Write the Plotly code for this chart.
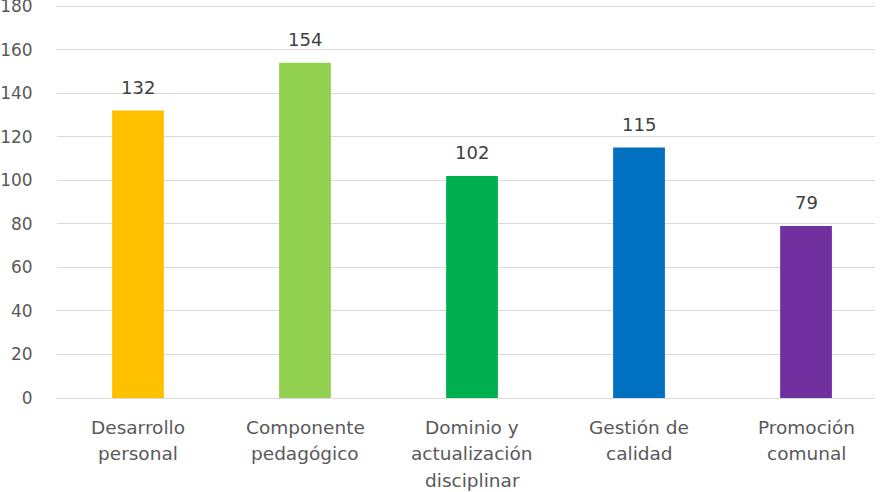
import plotly.graph_objects as go

categories = ["Desarrollo personal", "Componente pedagógico", "Dominio y actualización disciplinar",
              "Gestión de calidad", "Promoción comunal"]
tick_lines = [["Desarrollo", "personal"], ["Componente", "pedagógico"],
              ["Dominio y", "actualización", "disciplinar"],
              ["Gestión de", "calidad"], ["Promoción", "comunal"]]
values = [132, 154, 102, 115, 79]
colors = ["#FFC000", "#92D050", "#00B050", "#0070C0", "#7030A0"]
y_ticks = [0, 20, 40, 60, 80, 100, 120, 140, 160, 180]

font_family = "DejaVu Sans, sans-serif"

fig = go.Figure()
fig.add_trace(go.Bar(
    x=categories, y=values, marker=dict(color=colors, line=dict(width=0)),
    width=0.31, showlegend=False, hoverinfo="skip",
))

for c, v in zip(categories, values):
    fig.add_annotation(x=c, y=v, text=str(v), showarrow=False, yanchor="middle",
                       yshift=23, font=dict(family=font_family, size=18, color="#404040"))

for c, lines in zip(categories, tick_lines):
    for i, line in enumerate(lines):
        fig.add_annotation(x=c, xref="x", y=0, yref="paper", text=line, showarrow=False,
                           yanchor="middle", yshift=-(29 + 26.5 * i),
                           font=dict(family=font_family, size=18.5, color="#595959"))

fig.update_layout(
    width=881, height=492,
    margin=dict(l=57, r=6, t=3, b=94),
    paper_bgcolor="white", plot_bgcolor="white",
    font=dict(family=font_family, size=18, color="#595959"),
    xaxis=dict(
        type="category", range=[-0.485, 4.413], automargin=False,
        showticklabels=False,
        showgrid=False, showline=False, zeroline=False, ticks="",
    ),
    yaxis=dict(
        range=[0, 181.4], tickmode="array", tickvals=y_ticks, automargin=False,
        showgrid=True, gridcolor="#D9D9D9", gridwidth=1,
        zeroline=True, zerolinecolor="#D9D9D9", zerolinewidth=1,
        showline=False, ticks="outside", ticklen=20, tickcolor="rgba(0,0,0,0)",
        ticklabeloverflow="allow",
        tickfont=dict(size=17, color="#595959"),
    ),
)

fig.write_html("out.html")
